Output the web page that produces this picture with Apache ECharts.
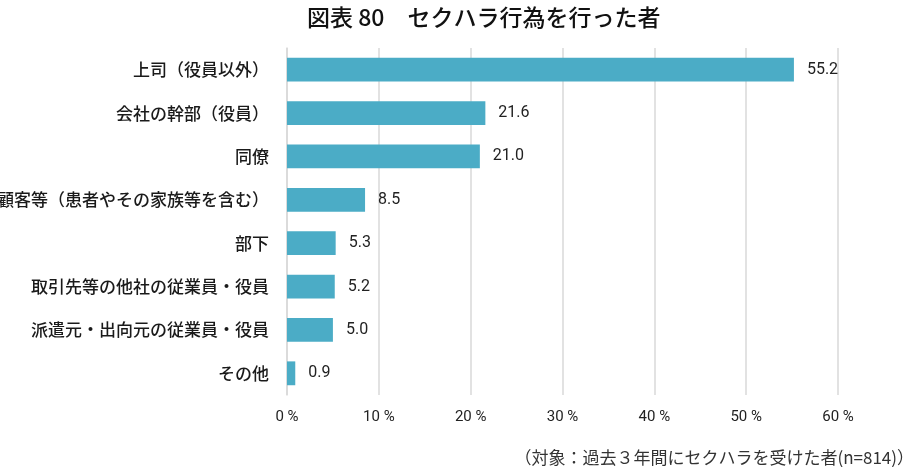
<!DOCTYPE html>
<html>
<head>
<meta charset="utf-8">
<script src="https://cdn.jsdelivr.net/npm/echarts@6/dist/echarts.min.js"></script>
<style>
  html, body { margin: 0; padding: 0; background: #fff; }
  #main { width: 921px; height: 467px; }
</style>
</head>
<body>
<div id="main"></div>
<script>
var categories = [
  '上司（役員以外）',
  '会社の幹部（役員）',
  '同僚',
  '顧客等（患者やその家族等を含む）',
  '部下',
  '取引先等の他社の従業員・役員',
  '派遣元・出向元の従業員・役員',
  'その他'
];
var values = [55.2, 21.6, 21.0, 8.5, 5.3, 5.2, 5.0, 0.9];
var xTicks = [0, 10, 20, 30, 40, 50, 60];

var chartDom = document.getElementById('main');
var myChart = echarts.init(chartDom);
var font = '"Noto Sans CJK JP", "Noto Sans", sans-serif';
var numFont = 'Roboto, "Noto Sans", sans-serif';

var option = {
  backgroundColor: '#fff',
  animation: false,
  textStyle: { fontFamily: font },
  title: [
    {
      text: '図表 80　セクハラ行為を行った者',
      left: 302,
      top: 1,
      textStyle: { fontSize: 23, fontWeight: 500, color: '#111', fontFamily: font }
    },
    {
      text: '（対象：過去３年間にセクハラを受けた者(n=814)）',
      right: 2,
      top: 444,
      textStyle: { fontSize: 17, fontWeight: 'normal', color: '#333', fontFamily: font }
    }
  ],
  grid: {
    left: 287, right: 83, top: 48, bottom: 72,
    containLabel: false,
    outerBoundsMode: 'none'
  },
  xAxis: {
    type: 'value',
    min: xTicks[0],
    max: xTicks[xTicks.length - 1],
    interval: 10,
    axisLine: { show: false },
    axisTick: { show: false },
    splitLine: { show: true, lineStyle: { color: '#d9d9d9', width: 1.5 } },
    axisLabel: {
      formatter: '{value} %',
      fontSize: 15,
      color: '#222',
      fontFamily: numFont,
      margin: 15
    }
  },
  yAxis: {
    type: 'category',
    inverse: true,
    data: categories,
    axisLine: { show: true, lineStyle: { color: '#d9d9d9', width: 1.5 } },
    axisTick: { show: false },
    axisLabel: { fontSize: 17, fontWeight: 500, color: '#1a1a1a', margin: 18 }
  },
  series: [
    {
      type: 'bar',
      data: values,
      barCategoryGap: '45%',
      itemStyle: { color: '#4bacc6' },
      label: {
        show: true,
        position: 'right',
        distance: 13,
        fontSize: 16,
        color: '#222',
        fontFamily: numFont,
        formatter: function (p) { return p.value.toFixed(1); }
      }
    }
  ]
};

option && myChart.setOption(option);
</script>
</body>
</html>
